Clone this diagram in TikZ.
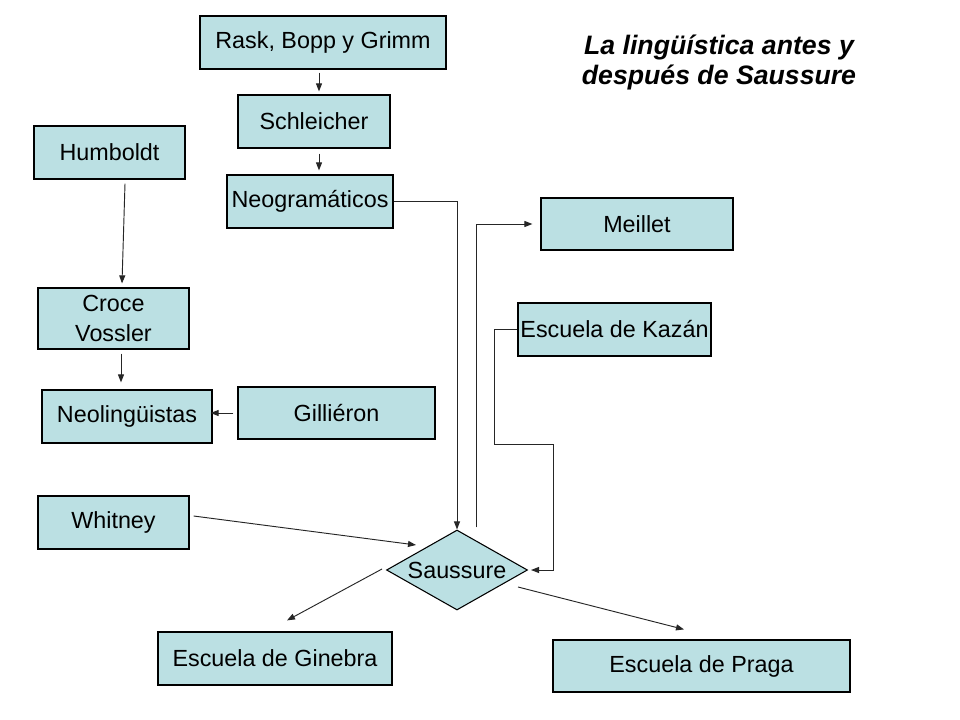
\documentclass[tikz,border=0pt]{standalone}
\usepackage{fontspec}
\setmainfont{Liberation Sans}
\usetikzlibrary{shapes.geometric,arrows.meta,calc}
\definecolor{boxfill}{HTML}{BBE0E3}
\begin{document}
\begin{tikzpicture}[x=0.75pt,y=-0.75pt,
  box/.style={draw=black,fill=boxfill,line width=0.9pt,rectangle,inner sep=0pt,
    minimum height=39.75pt,font=\fontsize{17.5}{20}\selectfont,align=center},
  arr/.style={draw=black!85,line width=0.7pt,-{Triangle[length=6pt,width=4.5pt]}},
  plainline/.style={draw=black!85,line width=0.7pt}]
\useasboundingbox (0,0) rectangle (960,720);
\fill[white] (0,0) rectangle (960,720);

% boxes
\node[box,minimum width=184.5pt] (rask) at (323,42.5) {Rask, Bopp y Grimm};
\node[box,minimum width=114pt] (schl) at (314,121.5) {Schleicher};
\node[box,minimum width=113.25pt] (humb) at (109.5,152.5) {Humboldt};
\node[box,minimum width=124.5pt] (neo) at (310,201.5) {Neogramáticos};
\node[box,minimum width=144pt,minimum height=39pt] (meil) at (637,224) {Meillet};
\node[box,minimum width=144.75pt] (kaz) at (614.5,329.5) {Escuela de Kazán};
\node[box,minimum width=113.25pt,minimum height=45.75pt,font=\fontsize{17.5}{22}\selectfont] (croce) at (113.5,318.5) {Croce\\Vossler};
\node[box,minimum width=127.5pt] (neol) at (127,416.5) {Neolingüistas};
\node[box,minimum width=147.75pt,minimum height=39pt] (gill) at (336.5,413) {Gilliéron};
\node[box,minimum width=113.25pt] (whit) at (113.5,522.5) {Whitney};
\node[box,minimum width=175.5pt] (gin) at (275,658.5) {Escuela de Ginebra};
\node[box,minimum width=222.75pt,minimum height=39pt] (prag) at (701.5,666) {Escuela de Praga};

% diamond
\node[draw=black,fill=boxfill,line width=0.8pt,diamond,inner sep=0pt,
  minimum width=105.75pt,minimum height=60pt,aspect=1.76] (sau) at (457,570) {};
\node[font=\fontsize{17.5}{20}\selectfont,inner sep=0pt] (saut) at (sau.center) {Saussure};

% title
\node[font=\fontsize{20}{22.5}\selectfont\bfseries\itshape,align=center,inner sep=0pt] (title) at (719,62) {La lingüística antes y\\después de Saussure};

% connectors
\draw[arr] ($(rask.south)+(-4,3)$) -- ($(schl.north)+(5,-3)$);
\draw[arr] ($(schl.south)+(5,5)$) -- ($(neo.north)+(9,-4)$);
\draw[arr] ($(humb.south)+(15.5,4)$) -- ($(croce.north)+(8.5,-4)$);
\draw[arr] ($(croce.south)+(7.5,4)$) -- ($(neol.north)+(-6,-7)$);
\draw[arr] ($(gill.west)+(-4,0)$) -- ($(neol.east)+(-2,-3.5)$);
\draw[arr] (neo.east) -| (sau.north);
\draw[arr] ($(sau.north)+(19.5,-2)$) |- ($(meil.west)+(-8,0)$);
\coordinate (kz1) at (494,444);
\coordinate (kz2) at (553,444);
\draw[arr] (kaz.west) -| (kz1) -- (kz2) |- ($(sau.east)+(3,0)$);
\draw[arr] ($(whit.east)+(4,-6.5)$) -- ($(sau.center)+(-41,-25)$);
\draw[arr] ($(sau.center)+(-75,-1)$) -- ($(gin.north)+(12,-11)$);
\draw[arr] ($(sau.center)+(61,17)$) -- ($(prag.north)+(-17.5,-10)$);
\end{tikzpicture}
\end{document}
